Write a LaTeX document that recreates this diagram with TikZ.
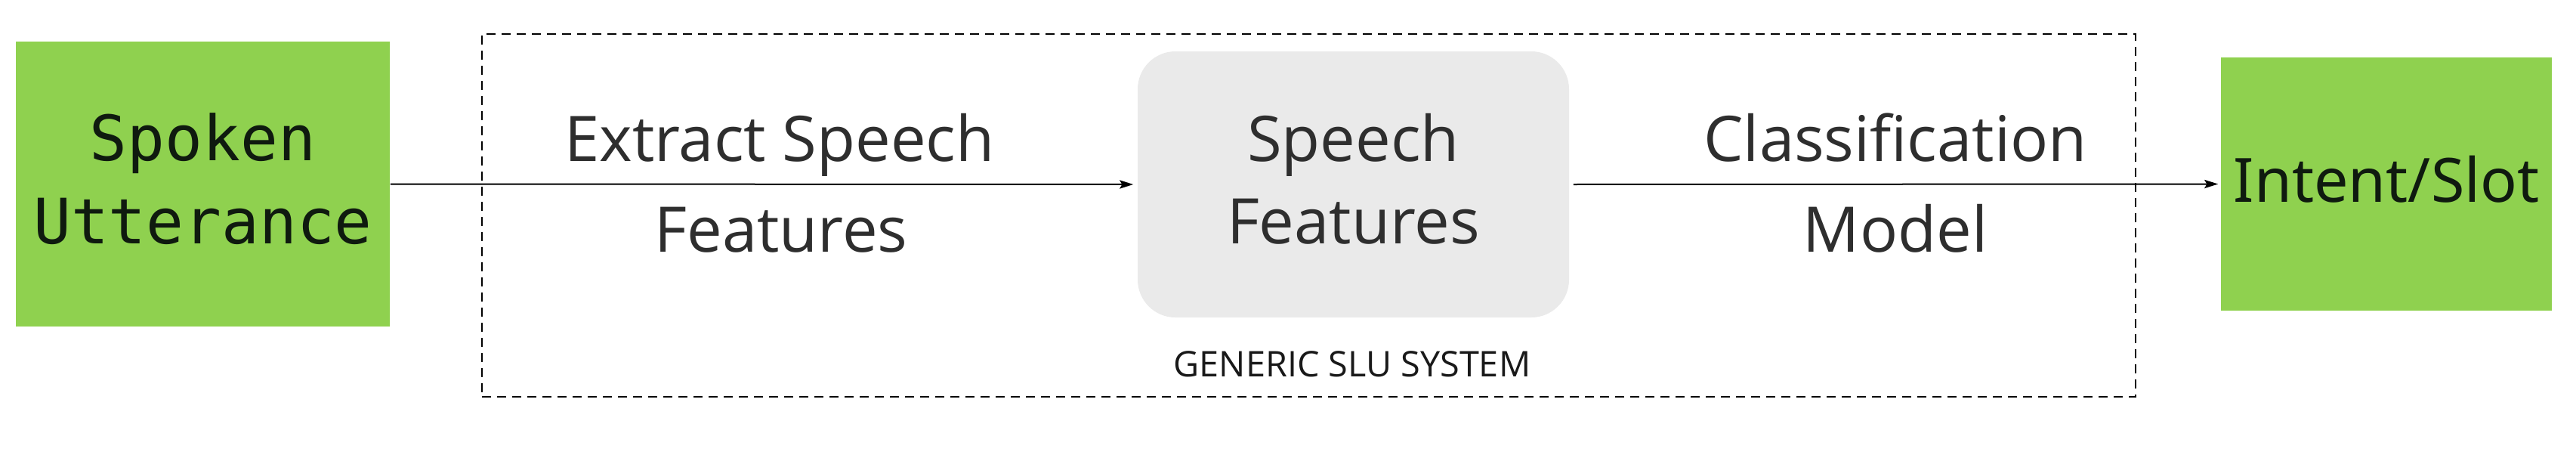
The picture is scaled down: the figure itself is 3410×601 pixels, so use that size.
\documentclass[tikz,border=0pt]{standalone}
\usepackage{fontspec}
\setmainfont{Open Sans}
\newfontfamily\monofont{DejaVu Sans Mono}
\newfontfamily\notofont{Noto Sans}
\usetikzlibrary{arrows.meta}
\definecolor{boxgreen}{HTML}{8FD14F}
\definecolor{boxgray}{HTML}{EAEAEA}
\definecolor{txtgray}{HTML}{2E2E2E}
\definecolor{txtdark}{HTML}{0F1A0F}
\begin{document}
\begin{tikzpicture}[x=0.25pt,y=-0.25pt,
  greenbox/.style={fill=boxgreen, draw=none, inner sep=0pt},
  graybox/.style={fill=boxgray, draw=none, rounded corners=12.5pt, inner sep=0pt},
  dashbox/.style={draw=black, line width=0.6pt, dash pattern=on 3pt off 2pt, inner sep=0pt},
  conn/.style={draw=black, line width=0.5pt, -{Stealth[length=4.5pt,width=2.8pt,inset=0.8pt]}},
  monotxt/.style={anchor=base, inner sep=0pt, text=txtdark, font=\monofont\fontsize{20.7}{24}\selectfont},
  labtxt/.style={anchor=base, inner sep=0pt, text=txtgray, font=\fontsize{20.8}{24}\selectfont},
  outtxt/.style={anchor=base, inner sep=0pt, text=txtdark, font=\notofont\fontsize{20.2}{24}\selectfont},
  smalltxt/.style={anchor=base, inner sep=0pt, text=black!90, font=\fontsize{11.7}{13}\selectfont}]
\useasboundingbox (0,0) rectangle (3410,601);
\fill[white] (0,0) rectangle (3410,601);
% dashed system box
\node[dashbox, minimum width=547.25pt, minimum height=120pt] (slu) at (1732.5,285) {};
\node[smalltxt] (slulabel) at (1790,498) {GENERIC SLU SYSTEM};
% boxes
\node[greenbox, minimum width=123.75pt, minimum height=94.25pt] (spoken) at (268.5,243.5) {};
\node[graybox, minimum width=142.75pt, minimum height=88pt] (feat) at (1791.5,244) {};
\node[greenbox, minimum width=109.5pt, minimum height=83.75pt] (intent) at (3159,243.5) {};
% texts in boxes
\node[monotxt] (spokenA) at (268.5,212) {Spoken};
\node[monotxt] (spokenB) at (268.5,322) {Utterance};
\node[labtxt] (featA) at (1791.5,213) {Speech};
\node[labtxt] (featB) at (1791.5,322) {Features};
\node[outtxt] (intentA) at (3159,267) {Intent/Slot};
% edge labels
\node[labtxt] (extA) at (1032,213) {Extract Speech};
\node[labtxt] (extB) at (1034,333) {Features};
\node[labtxt] (clsA) at (2509,213) {Classification};
\node[labtxt] (clsB) at (2509,333) {Model};
% connectors
\draw[conn, shorten >=1.25pt] (spoken.east) -- (feat.west);
\draw[conn, shorten <=1.25pt, shorten >=0.75pt] (feat.east) -- (intent.west);
\end{tikzpicture}
\end{document}
